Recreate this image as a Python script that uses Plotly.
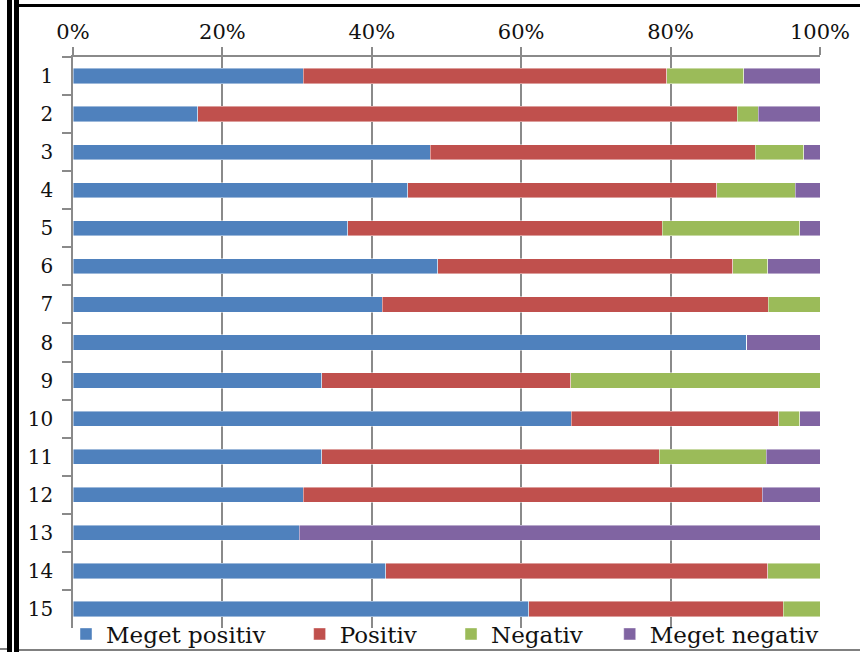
import plotly.graph_objects as go

categories = [str(i) for i in range(1, 16)]
series_names = ["Meget positiv", "Positiv", "Negativ", "Meget negativ"]
meget_positiv = [30.8, 16.7, 47.8, 44.8, 36.8, 48.8, 41.4, 90.2, 33.3, 66.7, 33.3, 30.8, 30.3, 41.9, 61.0]
positiv = [48.7, 72.2, 43.5, 41.4, 42.1, 39.5, 51.7, 0, 33.3, 27.8, 45.2, 61.5, 0, 51.2, 34.1]
negativ = [10.3, 2.8, 6.5, 10.5, 18.4, 4.7, 6.9, 0, 33.4, 2.8, 14.3, 0, 0, 7.0, 4.9]
meget_negativ = [10.2, 8.3, 2.2, 3.3, 2.7, 7.0, 0, 9.8, 0, 2.7, 7.2, 7.7, 69.7, 0, 0]
colors = ["#4F81BD", "#C0504D", "#9BBB59", "#8064A2"]
x_ticks = [0, 20, 40, 60, 80, 100]

FONT = "DejaVu Serif, Georgia, serif"
W, H = 860, 652
ML, MR, MT, MB = 73, 40, 57, 24
PW, PH = W - ML - MR, H - MT - MB

def px(x):
    return (x - ML) / PW

def py(y):
    return (H - MB - y) / PH

NBSP = "\u00a0"
pad_spaces = [4, 4, 3, 0]
fig = go.Figure()
for name, vals, col, n in zip(series_names, [meget_positiv, positiv, negativ, meget_negativ], colors, pad_spaces):
    fig.add_trace(go.Bar(
        y=categories, x=vals, name=name + NBSP * n, orientation="h",
        marker=dict(color=col, line=dict(color="rgba(255,255,255,0.55)", width=0.8)),
    ))

fig.update_layout(
    width=W, height=H,
    margin=dict(l=ML, r=MR, t=MT, b=MB, autoexpand=False),
    barmode="stack", barnorm="percent", bargap=0.6,
    plot_bgcolor="white", paper_bgcolor="white",
    font=dict(family=FONT, size=20, color="#111111"),
    showlegend=True,
    legend=dict(orientation="h", x=px(66), xanchor="left", y=py(634), yanchor="middle",
                font=dict(size=23, family=FONT), bgcolor="rgba(0,0,0,0)",
                traceorder="normal", itemwidth=30),
)
fig.update_xaxes(
    side="top", range=[0, 100], tickvals=x_ticks, ticktext=[f"{v}%" for v in x_ticks],
    showgrid=True, gridcolor="#8a8a8a", gridwidth=1.5,
    showline=True, linecolor="#8a8a8a", linewidth=1.5,
    ticks="outside", ticklen=8, tickcolor="#8a8a8a", tickwidth=1.5,
    tickfont=dict(size=21, family=FONT), zeroline=False,
)
fig.update_yaxes(
    type="category", categoryorder="array", categoryarray=categories, autorange="reversed",
    showgrid=False, showline=True, linecolor="#8a8a8a", linewidth=1.5,
    ticks="outside", ticklen=9, tickcolor="#8a8a8a", tickwidth=1.5, tickson="boundaries",
    tickfont=dict(size=20, family=FONT), ticklabelstandoff=14,
)

shapes = [
    dict(type="rect", x0=px(7), x1=px(12), y0=py(0), y1=py(652), fillcolor="black", line=dict(width=0)),
    dict(type="rect", x0=px(14), x1=px(19), y0=py(0), y1=py(652), fillcolor="black", line=dict(width=0)),
    dict(type="rect", x0=px(14), x1=px(860), y0=py(4), y1=py(7), fillcolor="black", line=dict(width=0)),
    dict(type="rect", x0=px(19), x1=px(860), y0=py(649), y1=py(651), fillcolor="#808080", line=dict(width=0)),
    dict(type="rect", x0=px(0), x1=px(7), y0=py(648), y1=py(650), fillcolor="#808080", line=dict(width=0)),
]
for s in shapes:
    s.update(xref="paper", yref="paper", layer="above")
fig.update_layout(shapes=shapes)

fig.write_html("out.html")
